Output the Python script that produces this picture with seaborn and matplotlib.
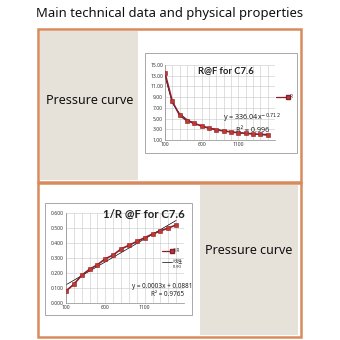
import numpy as np
import pandas as pd
import seaborn as sns
import matplotlib
matplotlib.use("Agg")
import matplotlib.pyplot as plt
from matplotlib.patches import Rectangle

# ---------------- data ----------------
force = [100, 200, 300, 400, 500, 600, 700, 800, 900, 1000, 1100, 1200, 1300, 1400, 1500]
resistance = [13.5, 8.2, 5.6, 4.6, 4.1, 3.6, 3.2, 2.9, 2.7, 2.5, 2.35, 2.25, 2.15, 2.05, 2.0]
conductance = [0.080, 0.125, 0.185, 0.225, 0.255, 0.295, 0.320, 0.360, 0.385, 0.410,
               0.435, 0.460, 0.480, 0.500, 0.520]
r_ticks = [1, 3, 5, 7, 9, 11, 13, 15]
g_ticks = [0.0, 0.1, 0.2, 0.3, 0.4, 0.5, 0.6]
x_ticks = [100, 600, 1100]
page_title = "Main technical data and physical properties"
side_label = "Pressure curve"
title1 = "R@F for C7.6"
title2 = "1/R @F for C7.6"
eq1 = r"y = 336.04x$^{-0.712}$"
r2_1 = "R² = 0.996"
eq2 = "y = 0.0003x + 0.0881"
r2_2 = "R² = 0.9765"

sns.set_style("white")
plt.rcParams['font.family'] = ['Noto Sans', 'DejaVu Sans']

W = H = 340.0
fig = plt.figure(figsize=(3.4, 3.4), dpi=100)

def fx(x):
    return x / W

def fy(y):
    return 1 - y / H

def rect_px(x0, y0, x1, y1, z=-5, **kw):
    fig.patches.append(Rectangle((fx(x0), fy(y1)), fx(x1) - fx(x0), fy(y0) - fy(y1),
                                 transform=fig.transFigure, zorder=z, **kw))

def axes_px(x0, y0, x1, y1):
    return fig.add_axes([fx(x0), fy(y1), fx(x1) - fx(x0), fy(y0) - fy(y1)])

border = "#d98a5c"
gray = "#e6e1d9"
dark = "#8c1c2c"
fillc = "#c0392b"

# page title
fig.text(fx(170), fy(13), page_title, ha="center", va="center", fontsize=9.4, color="#111111")

# panel 1
rect_px(38, 29, 301, 182, z=-10, facecolor="white", edgecolor=border, lw=1.8)
rect_px(40, 31, 138, 180, z=-9, facecolor=gray, edgecolor="none")
fig.text(fx(90), fy(100), side_label, ha="center", va="center", fontsize=9.0, color="#111111")
rect_px(145, 53, 297, 153, z=-8, facecolor="white", edgecolor="#9a9a9a", lw=0.6)

# panel 2
rect_px(38, 183, 301, 337, z=-10, facecolor="white", edgecolor=border, lw=1.8)
rect_px(200, 185, 298, 335, z=-9, facecolor=gray, edgecolor="none")
fig.text(fx(249), fy(250), side_label, ha="center", va="center", fontsize=9.0, color="#111111")
rect_px(45, 203, 192, 315, z=-8, facecolor="white", edgecolor="#9a9a9a", lw=0.6)

def style_axes(ax, yticks, fmt):
    ax.set_xlim(100, 1600)
    ax.set_ylim(yticks[0], yticks[-1])
    ax.set_xticks(x_ticks)
    ax.set_xticks(np.arange(100, 1601, 100), minor=True)
    ax.set_yticks(yticks)
    ax.set_yticklabels([fmt.format(v) for v in yticks])
    ax.grid(True, which="major", axis="y", color="#c8c8c8", lw=0.4)
    ax.grid(True, which="minor", axis="x", color="#c8c8c8", lw=0.4)
    ax.grid(True, which="major", axis="x", color="#c8c8c8", lw=0.4)
    ax.tick_params(axis="both", which="both", length=0, labelsize=3.6, pad=1.5, colors="#333333")
    for s in ax.spines.values():
        s.set_visible(False)
    ax.spines["left"].set_visible(True)
    ax.spines["bottom"].set_visible(True)
    ax.spines["left"].set_color("#888888")
    ax.spines["bottom"].set_color("#888888")
    ax.spines["left"].set_linewidth(0.5)
    ax.spines["bottom"].set_linewidth(0.5)
    ax.set_xlabel("")
    ax.set_ylabel("")
    ax.set_facecolor("none")

# chart 1
ax1 = axes_px(165, 65, 275, 140)
df1 = pd.DataFrame({"F": force, "R": resistance})
coef = np.polyfit(np.log(df1["F"]), np.log(df1["R"]), 1)
ax1.plot(df1["F"], np.exp(coef[1]) * df1["F"] ** coef[0], color="black", lw=0.5, zorder=2)
sns.lineplot(data=df1, x="F", y="R", ax=ax1, color=dark, lw=1.2, marker="s", markersize=2.8,
             markerfacecolor=fillc, markeredgecolor=dark, markeredgewidth=0.4, zorder=3)
style_axes(ax1, r_ticks, "{:.2f}")
ax1.text(0.55, 0.99, title1, transform=ax1.transAxes, ha="center", va="top",
         fontsize=6.8, fontweight="bold", color="#222222", family=["Lato", "DejaVu Sans"])
ax1.text(1280, 5.0, eq1, ha="center", va="center", fontsize=5.2, color="#222222", zorder=4)
ax1.text(1290, 2.75, r2_1, ha="center", va="center", fontsize=5.2, color="#222222", zorder=4)
# legend (outside right)
fig.lines.append(plt.Line2D([fx(276), fx(288)], [fy(97), fy(97)], transform=fig.transFigure,
                            color=dark, lw=0.9, marker="s", markersize=2.2,
                            markevery=[1], markerfacecolor=fillc, markeredgecolor=dark))
fig.text(fx(290), fy(97), "R", fontsize=3.3, va="center", color="#333333")

# chart 2
ax2 = axes_px(66, 213, 184, 303)
df2 = pd.DataFrame({"F": force, "G": conductance})
sns.regplot(data=df2, x="F", y="G", ax=ax2, scatter=False, ci=None,
            line_kws=dict(color="black", lw=0.5, zorder=2))
sns.lineplot(data=df2, x="F", y="G", ax=ax2, color=dark, lw=1.2, marker="s", markersize=2.8,
             markerfacecolor=fillc, markeredgecolor=dark, markeredgewidth=0.4, zorder=3)
style_axes(ax2, g_ticks, "{:.3f}")
fig.text(fx(144), fy(214), title2, ha="center", va="center",
         fontsize=8.2, fontweight="bold", color="#222222", family=["Lato", "DejaVu Sans"])
fig.lines.append(plt.Line2D([fx(162), fx(172)], [fy(251), fy(251)], transform=fig.transFigure,
                            color=dark, lw=0.9, marker="s", markersize=2.2,
                            markevery=[1], markerfacecolor=fillc, markeredgecolor=dark))
fig.text(fx(173), fy(251), "1/R", fontsize=3.3, va="center", color="#333333")
fig.lines.append(plt.Line2D([fx(162), fx(172)], [fy(262), fy(262)], transform=fig.transFigure,
                            color="black", lw=0.5))
fig.text(fx(173), fy(261), "线性", fontsize=3.6, va="center", color="#333333",
         family=["Noto Sans CJK SC", "DejaVu Sans"])
fig.text(fx(173), fy(267), "(1/R)", fontsize=3.0, va="center", color="#333333")
fig.text(fx(162), fy(286), eq2, ha="center", va="center", fontsize=4.6, color="#222222")
fig.text(fx(168), fy(294), r2_2, ha="center", va="center", fontsize=4.6, color="#222222")

fig.savefig("out.png", dpi=100)
